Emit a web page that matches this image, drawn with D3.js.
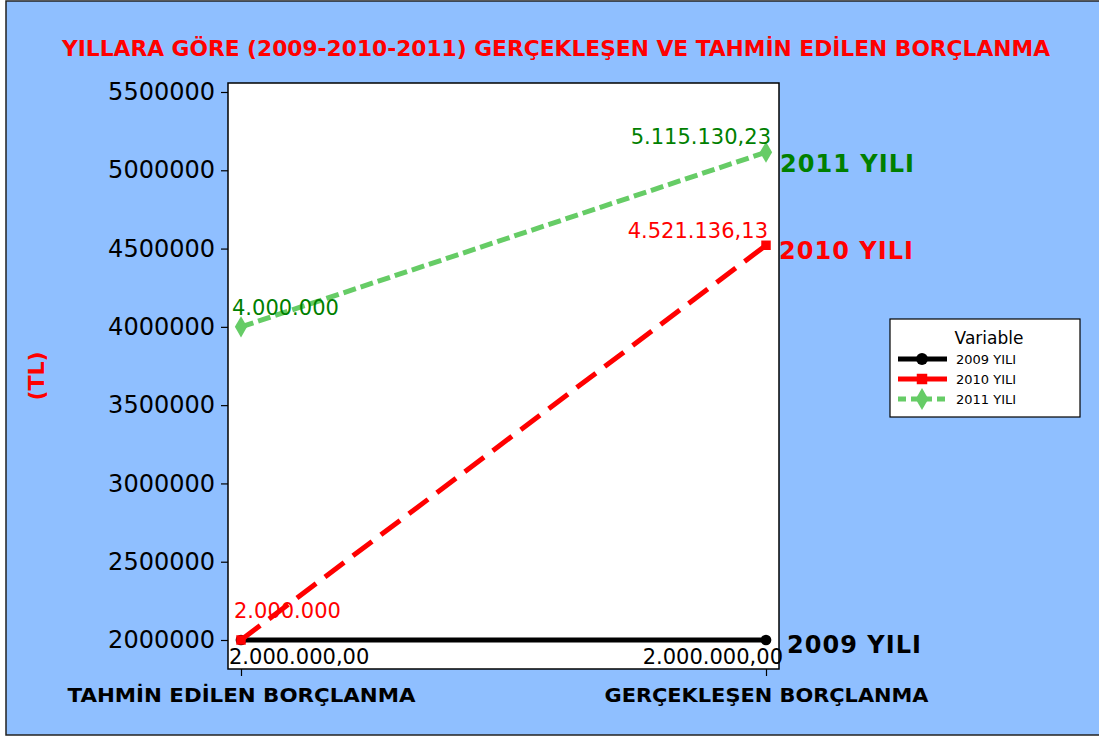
<!DOCTYPE html>
<html>
<head>
<meta charset="utf-8">
<script src="https://cdn.jsdelivr.net/npm/d3@7"></script>
<style>
  body { margin: 0; background: #fff; }
  text { font-family: "DejaVu Sans", Verdana, sans-serif; }
</style>
</head>
<body>
<script>
var width = 1099;
var height = 738;

var categories = ['TAHMİN EDİLEN BORÇLANMA', 'GERÇEKLEŞEN BORÇLANMA'];
var yTicks = [2000000, 2500000, 3000000, 3500000, 4000000, 4500000, 5000000, 5500000];

var series2009 = [2000000, 2000000];
var series2010 = [2000000, 4521136.13];
var series2011 = [4000000, 5115130.23];

var labels2009 = ['2.000.000,00', '2.000.000,00'];
var labels2010 = ['2.000.000', '4.521.136,13'];
var labels2011 = ['4.000.000', '5.115.130,23'];

var seriesNames = ['2009 YILI', '2010 YILI', '2011 YILI'];

var plot = { left: 228, right: 779, top: 83, bottom: 669 };

var svg = d3.select('body').append('svg')
  .attr('width', width)
  .attr('height', height);

// background + frame
svg.append('rect')
  .attr('x', 6).attr('y', 1)
  .attr('width', width + 10).attr('height', 734)
  .attr('fill', '#8fbfff')
  .attr('stroke', '#222').attr('stroke-width', 1.5);

svg.append('rect')
  .attr('x', plot.left).attr('y', plot.top)
  .attr('width', plot.right - plot.left).attr('height', plot.bottom - plot.top)
  .attr('fill', '#fff')
  .attr('stroke', '#000').attr('stroke-width', 1.5);

var x = d3.scalePoint()
  .domain(categories)
  .range([241, 766]);

var y = d3.scaleLinear()
  .domain([2000000, 5500000])
  .range([640, 92]);

// title
svg.append('text')
  .attr('x', 556).attr('y', 56)
  .attr('text-anchor', 'middle')
  .attr('fill', '#ff0000')
  .attr('font-weight', 'bold')
  .attr('font-size', 21)
  .attr('textLength', 988)
  .attr('lengthAdjust', 'spacingAndGlyphs')
  .style('font-family', '"DejaVu Sans Condensed", "DejaVu Sans", sans-serif')
  .text('YILLARA GÖRE (2009-2010-2011) GERÇEKLEŞEN VE TAHMİN EDİLEN BORÇLANMA');

// y axis
var yAxis = svg.append('g')
  .attr('transform', 'translate(' + plot.left + ',0)')
  .call(d3.axisLeft(y).tickValues(yTicks).tickSize(7).tickPadding(6).tickFormat(d3.format('d')));
yAxis.select('.domain').remove();
yAxis.selectAll('line').attr('stroke', '#000').attr('stroke-width', 1.2);
yAxis.selectAll('text')
  .attr('font-size', 24)
  .attr('fill', '#000')
  .style('font-family', '"DejaVu Sans", Verdana, sans-serif');

// x axis
var xAxis = svg.append('g')
  .attr('transform', 'translate(0,' + plot.bottom + ')')
  .call(d3.axisBottom(x).tickSize(7).tickPadding(13));
xAxis.select('.domain').remove();
xAxis.selectAll('line').attr('stroke', '#000').attr('stroke-width', 1.2);
xAxis.selectAll('text')
  .attr('font-size', 19)
  .attr('font-weight', 'bold')
  .attr('fill', '#000')
  .attr('textLength', function(d, i) { return i === 0 ? 348 : 324; })
  .attr('lengthAdjust', 'spacingAndGlyphs')
  .style('font-family', '"DejaVu Sans", Verdana, sans-serif');

// y label
svg.append('text')
  .attr('transform', 'translate(44,376) rotate(-90)')
  .attr('text-anchor', 'middle')
  .attr('fill', '#ff0000')
  .attr('font-weight', 'bold')
  .attr('font-size', 22)
  .text('(TL)');

var line = d3.line()
  .x(function(d, i) { return x(categories[i]); })
  .y(function(d) { return y(d); });

var styles = [
  { data: series2009, color: '#000000', dash: null, marker: d3.symbolCircle },
  { data: series2010, color: '#ff0000', dash: '24,11', marker: d3.symbolSquare },
  { data: series2011, color: '#66cc66', dash: '13,5', marker: d3.symbolDiamond }
];

var lines = svg.append('g');
styles.forEach(function(s) {
  lines.append('path')
    .datum(s.data)
    .attr('d', line)
    .attr('fill', 'none')
    .attr('stroke', s.color)
    .attr('stroke-width', 5)
    .attr('stroke-dasharray', s.dash);
  lines.selectAll(null)
    .data(s.data)
    .enter().append('path')
    .attr('transform', function(d, i) { return 'translate(' + x(categories[i]) + ',' + y(d) + ')'; })
    .attr('d', d3.symbol().type(s.marker).size(s.marker === d3.symbolDiamond ? 130 : 90))
    .attr('fill', s.color);
});

// data labels
var dataLabels = svg.append('g').attr('font-size', 21);
function addLabel(txt, px, py, anchor, color) {
  dataLabels.append('text')
    .attr('x', px).attr('y', py)
    .attr('text-anchor', anchor)
    .attr('fill', color)
    .text(txt);
}
addLabel(labels2011[0], x(categories[0]) - 9, y(series2011[0]) - 12, 'start', '#008000');
addLabel(labels2011[1], x(categories[1]) + 5, y(series2011[1]) - 8, 'end', '#008000');
addLabel(labels2010[0], x(categories[0]) - 7, y(series2010[0]) - 22, 'start', '#ff0000');
addLabel(labels2010[1], x(categories[1]) + 2, y(series2010[1]) - 7, 'end', '#ff0000');
addLabel(labels2009[0], x(categories[0]) - 12, y(series2009[0]) + 24, 'start', '#000000');
addLabel(labels2009[1], x(categories[1]) + 17, y(series2009[1]) + 24, 'end', '#000000');

// series names at right end
var endNames = svg.append('g').attr('font-size', 24).attr('font-weight', 'bold')
  .attr('lengthAdjust', 'spacingAndGlyphs');
endNames.append('text').attr('x', 780).attr('y', y(series2011[1]) + 20).attr('fill', '#008000')
  .attr('textLength', 134).text(seriesNames[2]);
endNames.append('text').attr('x', 779).attr('y', y(series2010[1]) + 14).attr('fill', '#ff0000')
  .attr('textLength', 134).text(seriesNames[1]);
endNames.append('text').attr('x', 787).attr('y', y(series2009[1]) + 13).attr('fill', '#000000')
  .attr('textLength', 134).text(seriesNames[0]);

// legend
var legend = svg.append('g').attr('transform', 'translate(890,319)');
legend.append('rect')
  .attr('width', 190).attr('height', 98)
  .attr('fill', '#fff').attr('stroke', '#000').attr('stroke-width', 1.2);
legend.append('text')
  .attr('x', 99).attr('y', 25)
  .attr('text-anchor', 'middle')
  .attr('font-size', 17)
  .text('Variable');
styles.forEach(function(s, i) {
  var ly = 40 + i * 20;
  legend.append('line')
    .attr('x1', 8).attr('x2', 57)
    .attr('y1', ly).attr('y2', ly)
    .attr('stroke', s.color).attr('stroke-width', 5)
    .attr('stroke-dasharray', s.dash ? (i === 2 ? '8,5' : null) : null);
  legend.append('path')
    .attr('transform', 'translate(32,' + ly + ')')
    .attr('d', d3.symbol().type(s.marker).size(i === 2 ? 140 : 110))
    .attr('fill', s.color);
  legend.append('text')
    .attr('x', 66).attr('y', ly + 5)
    .attr('font-size', 13)
    .text(seriesNames[i]);
});
</script>
</body>
</html>
